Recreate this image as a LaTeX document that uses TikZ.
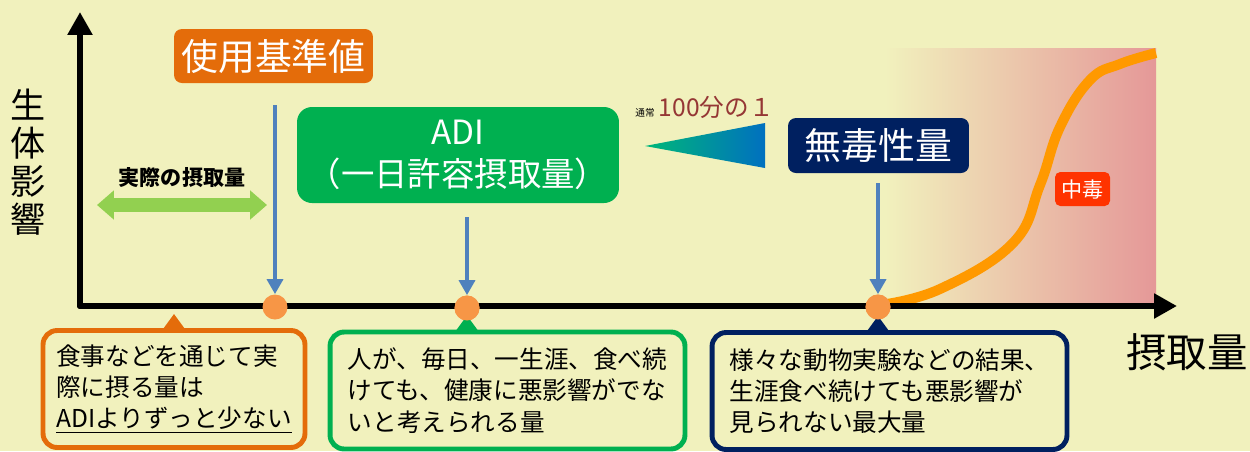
\documentclass[tikz,border=0pt]{standalone}
\usepackage{fontspec}
\setmainfont{Noto Sans CJK JP}
\usetikzlibrary{arrows.meta,positioning}
\definecolor{paper}{RGB}{241,241,189}
\definecolor{stdorange}{RGB}{228,108,10}
\definecolor{adigreen}{RGB}{0,176,80}
\definecolor{noaelnavy}{RGB}{0,32,96}
\definecolor{dropblue}{RGB}{79,129,189}
\definecolor{dotorange}{RGB}{247,150,70}
\definecolor{intakegreen}{RGB}{146,208,80}
\definecolor{poisonred}{RGB}{255,51,0}
\definecolor{curveorange}{RGB}{255,153,0}
\definecolor{riskpink}{RGB}{229,152,152}
\definecolor{ratiobrown}{RGB}{149,55,53}
\definecolor{wedgegreen}{RGB}{0,184,120}
\definecolor{wedgeblue}{RGB}{0,112,192}

\begin{document}
\begin{tikzpicture}[x=0.02cm,y=-0.02cm,
    tag/.style={rounded corners=4.5pt,text=white,inner sep=0pt,font=\fontsize{21}{24}\selectfont},
    callout/.style={draw,line width=2.8pt,rounded corners=8pt,minimum width=#1,
        minimum height=2.34cm,align=left,inner sep=0pt,font=\fontsize{14}{17.8}\selectfont},
    dropline/.style={draw=dropblue,line width=2.4pt,-{Triangle[length=8.5pt,width=9pt]}},
    dot/.style={circle,fill=dotorange,minimum size=0.5cm,inner sep=0pt},
    axis/.style={line width=3.4pt,line cap=round,-{Triangle[length=13pt,width=13.5pt]}}]
    \useasboundingbox (0,0) rectangle (1250,451);
    \fill[paper] (0,0) rectangle (1250,451);

    % toxic zone and response curve
    \shade[left color=paper,right color=riskpink] (885,48) rectangle (1156,305);
    \draw[curveorange,line width=5.7pt] plot[smooth,tension=0.7] coordinates
        {(880,305) (940,289) (1013,243) (1040,185) (1060,127) (1090,80) (1120,64) (1156,53)};
    \node[tag,fill=poisonred,rounded corners=3pt,minimum width=1.1cm,minimum height=0.68cm,
        font=\fontsize{12}{14}\selectfont] (poison) at (1082.5,189) {中毒};

    % axes
    \coordinate (origin) at (80,306);
    \coordinate (ytip) at (80,12);
    \coordinate (xtip) at (1177,306);
    \draw[axis] (origin) -- (ytip);
    \draw[axis] (origin) -- (xtip);
    \node[align=center,font=\fontsize{20}{21.5}\selectfont] (ylabel) at (28,162) {生\\体\\影\\響};
    \node[font=\fontsize{23}{26}\selectfont] (xlabel) at (1187,352) {摂取量};

    % levels
    \node[tag,fill=stdorange,minimum width=3.98cm,minimum height=1.08cm] (stdval) at (273.5,56) {使用基準値};
    \node[tag,fill=adigreen,rounded corners=8.5pt,minimum width=6.44cm,minimum height=1.92cm,
        align=center,font=\fontsize{19}{24}\selectfont] (adi) at (458,155) {ADI\\（一日許容摂取量）};
    \node[tag,fill=noaelnavy,minimum width=3.62cm,minimum height=1.1cm] (noael) at (878.5,145.5) {無毒性量};

    % safety factor
    \shade[left color=wedgegreen,right color=wedgeblue] (645,146) -- (765,123) -- (765,168) -- cycle;
    \node[inner sep=0pt,font=\fontsize{5.5}{6}\selectfont] (usually) at (645,113) {通常};
    \node[anchor=base west,inner sep=0pt,text=ratiobrown,font=\fontsize{14}{16}\selectfont]
        (ratio) at ([xshift=2pt]usually.base east) {100分の１};

    % actual intake
    \node[font=\bfseries\fontsize{12}{14}\selectfont] (intake) at (182,178) {実際の摂取量};
    \coordinate (intakeL) at (97,205);
    \coordinate (intakeR) at (267,205);
    \draw[intakegreen,line width=7.9pt,{Triangle[length=9.6pt,width=16pt]}-{Triangle[length=9.6pt,width=16pt]}]
        (intakeL) -- (intakeR);

    % points on the axis
    \node[dot] (dotstd) at (275,307) {};
    \node[dot] (dotadi) at (467,308) {};
    \node[dot] (dotnoael) at (878,307) {};
    \draw[dropline,shorten <=0.44cm] (stdval.south -| dotstd) -- (dotstd.north);
    \draw[dropline,shorten <=0.28cm] (adi.south -| dotadi) -- (dotadi.north);
    \draw[dropline,shorten <=0.2cm] (noael.south -| dotnoael) -- (dotnoael.north);

    % notes
    \node[callout=5.24cm,draw=stdorange] (eatnote) at (174,389) {食事などを通じて実\\際に摂る量は\\\underline{ADIよりずっと少ない}};
    \node[callout=7.1cm,draw=adigreen] (adinote) at (507.5,390.5) {人が、毎日、一生涯、食べ続\\けても、健康に悪影響がでな\\いと考えられる量};
    \node[callout=7.1cm,draw=noaelnavy] (noaelnote) at (889.5,391) {様々な動物実験などの結果、\\生涯食べ続けても悪影響が\\見られない最大量};
    \fill[stdorange] (eatnote.north) ++(-11,1) -- ++(11,-15) -- ++(11,15) -- cycle;
    \fill[adigreen] (dotadi |- adinote.north) ++(-11,1) -- ++(11,-15) -- ++(11,15) -- cycle;
    \fill[noaelnavy] (dotnoael |- noaelnote.north) ++(-11,1) -- ++(11,-15) -- ++(11,15) -- cycle;
    \node[dot] at (dotadi) {};
    \node[dot] at (dotnoael) {};
\end{tikzpicture}
\end{document}
